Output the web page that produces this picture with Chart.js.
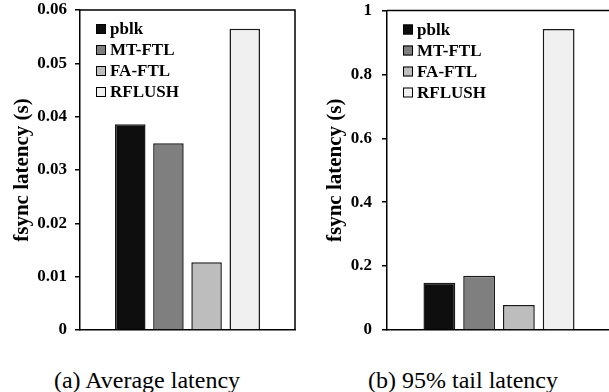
<!DOCTYPE html>
<html><head><meta charset="utf-8">
<script src="https://cdn.jsdelivr.net/npm/chart.js@4/dist/chart.umd.min.js"></script>
<style>
html,body{margin:0;padding:0;background:#fff;width:609px;height:392px;overflow:hidden;position:relative;}
.wrap{position:absolute;top:0;height:340px;}
#w1{left:0;width:300px;}
#w2{left:300px;width:315px;}
.cap{position:absolute;font-family:'Liberation Serif','Times New Roman',serif;font-size:24px;line-height:26px;white-space:nowrap;transform:translateX(-50%);color:#000;}
</style></head><body>
<div class="wrap" id="w1"><canvas id="c1"></canvas></div>
<div class="wrap" id="w2"><canvas id="c2"></canvas></div>
<div class="cap" id="cap1" style="left:147px;top:367px"></div>
<div class="cap" id="cap2" style="left:463px;top:367px"></div>
<script>
// ---- data ----
const categories = [''];
const seriesNames = ['pblk', 'MT-FTL', 'FA-FTL', 'RFLUSH'];
const avgLatency = [0.0386, 0.0350, 0.0127, 0.0565];
const tailLatency = [0.148, 0.170, 0.078, 0.942];
const avgAxis = { min: 0, max: 0.06, step: 0.01 };
const tailAxis = { min: 0, max: 1, step: 0.2 };
const yTitle = 'fsync latency (s)';
const captions = ['(a) Average latency', '(b) 95% tail latency'];

// ---- styles ----
const fills = ['#0e0e0e', '#7f7f7f', '#bdbdbd', '#f0f0f0'];
const FONT = "'Liberation Serif', 'Times New Roman', serif";

document.getElementById('cap1').textContent = captions[0];
document.getElementById('cap2').textContent = captions[1];

const framePlugin = {
  id: 'frame',
  afterDatasetsDraw(chart) {
    const { ctx, chartArea: a } = chart;
    ctx.save();
    ctx.strokeStyle = '#000';
    ctx.lineWidth = 1.5;
    ctx.beginPath();
    ctx.moveTo(a.left, a.top);
    ctx.lineTo(a.right, a.top);
    ctx.lineTo(a.right, a.bottom);
    ctx.stroke();
    ctx.restore();
  }
};

const boxLegend = {
  id: 'boxLegend',
  afterDraw(chart, args, o) {
    const { ctx, chartArea: a } = chart;
    ctx.save();
    ctx.font = `bold ${o.size}px ${FONT}`;
    ctx.textBaseline = 'middle';
    ctx.textAlign = 'left';
    chart.data.datasets.forEach((ds, i) => {
      const cy = a.top + o.top + i * o.rowGap;
      const bx = a.left + o.left;
      ctx.fillStyle = ds.backgroundColor;
      ctx.fillRect(bx, cy - o.box / 2, o.box, o.box);
      ctx.strokeStyle = '#000';
      ctx.lineWidth = 1;
      ctx.strokeRect(bx + 0.5, cy - o.box / 2 + 0.5, o.box - 1, o.box - 1);
      ctx.fillStyle = '#000';
      ctx.fillText(ds.label, bx + o.box + o.gap, cy + 1);
    });
    ctx.restore();
  }
};

function makeChart(id, values, axis, yWidth, titlePad, padRight, tickPad, padTop) {
  const datasets = seriesNames.map((name, i) => ({
    label: name,
    data: [values[i]],
    backgroundColor: fills[i],
    borderColor: '#1a1a1a',
    borderWidth: 1.5,
    borderSkipped: 'bottom',
    categoryPercentage: 0.71,
    barPercentage: 0.8
  }));
  return new Chart(document.getElementById(id), {
    type: 'bar',
    data: { labels: categories, datasets },
    options: {
      responsive: true,
      maintainAspectRatio: false,
      animation: false,
      devicePixelRatio: 1,
      layout: { padding: { top: 0, right: padRight, bottom: 0, left: 0 } },
      plugins: {
        legend: { display: false },
        tooltip: { enabled: false },
        boxLegend: { size: 17, box: 10, left: 16, top: 19, rowGap: 21, gap: 4 }
      },
      scales: {
        x: {
          grid: { display: false },
          ticks: { display: false },
          border: { display: true, color: '#000', width: 1.5 }
        },
        y: {
          min: axis.min, max: axis.max,
          afterFit(s) { s.width = yWidth; s.paddingTop = padTop; s.paddingBottom = 10; },
          ticks: {
            stepSize: axis.step,
            color: '#000',
            padding: tickPad,
            callback: (v) => String(Number(v.toFixed(4))),
            font: { family: FONT, size: 17, weight: 'bold' }
          },
          grid: { drawOnChartArea: false, drawTicks: true, tickLength: 5, color: '#000', lineWidth: 1.5 },
          border: { display: true, color: '#000', width: 1.5 },
          title: {
            display: true,
            text: yTitle,
            color: '#000',
            padding: { top: titlePad, bottom: 0 },
            font: { family: FONT, size: 21, weight: 'bold' }
          }
        }
      }
    },
    plugins: [framePlugin, boxLegend]
  });
}

makeChart('c1', avgLatency, avgAxis, 80, 10, 5, 8, 10);
makeChart('c2', tailLatency, tailAxis, 87, 22.5, 4, 10, 10.5);
</script>
</body></html>
